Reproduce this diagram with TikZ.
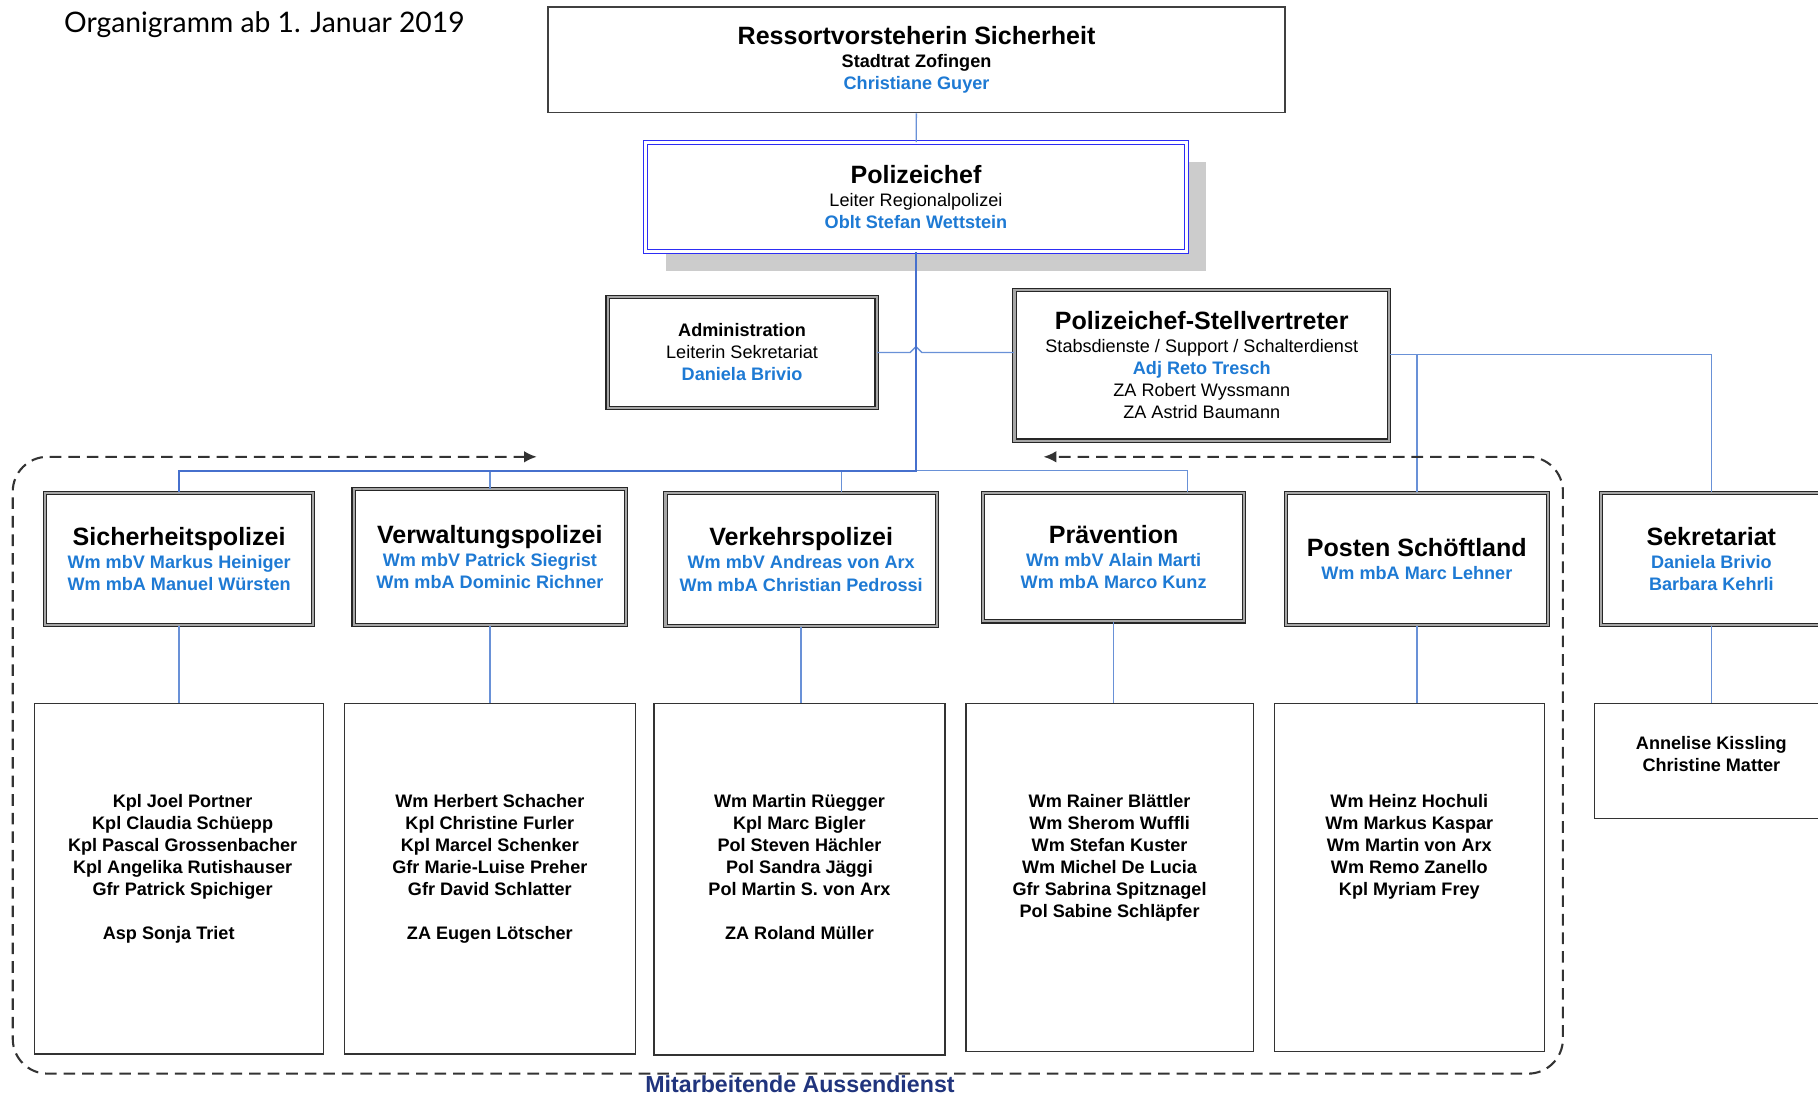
\documentclass[tikz,border=0pt]{standalone}
\usepackage{fontspec}
\setmainfont{Liberation Sans}
\newfontfamily\headfont{Lato}
\usetikzlibrary{positioning,arrows.meta,shadows}

\definecolor{nameblue}{RGB}{30,122,212}
\definecolor{linkblue}{RGB}{105,145,215}
\definecolor{mainblue}{RGB}{70,112,205}
\definecolor{chefblue}{RGB}{45,45,245}
\definecolor{shadowgray}{RGB}{204,204,204}
\definecolor{navy}{RGB}{32,52,125}

\newcommand{\smallset}{\fontsize{7.8}{9.5}\selectfont}
\newcommand{\boxtitle}[1]{{\fontsize{10.8}{12}\selectfont\bfseries #1}}
\newcommand{\persona}[1]{\textcolor{nameblue}{\bfseries #1}}

\tikzset{
  unitbox/.style={draw=black!85, line width=0.5pt, double=black!35, double distance=0.9pt,
    fill=white, inner sep=0pt, align=center, font=\smallset},
  plainbox/.style={draw=black!80, line width=0.6pt, fill=white, inner sep=0pt},
  stafftext/.style={inner sep=0pt, align=center, font=\smallset\bfseries},
  link/.style={draw=linkblue, line width=0.6pt},
  mainlink/.style={draw=mainblue, line width=1pt},
  frame/.style={draw=black!80, line width=0.9pt, dash pattern=on 5pt off 3pt}
}

\begin{document}
\begin{tikzpicture}[x=0.5pt, y=-0.5pt]
\useasboundingbox (0,0) rectangle (1568,945);

\node[anchor=west, inner sep=0pt, font=\headfont\fontsize{12.2}{14}\selectfont] (caption) at (55,21) {Organigramm ab 1. Januar 2019};

% Leitung
\node[plainbox, draw=black!75, line width=0.8pt, minimum width=317.5pt, minimum height=45.5pt, align=center, font=\smallset] (ressort) at (790.5,51.5)
  {\boxtitle{Ressortvorsteherin Sicherheit}\\[0.5pt] \textbf{Stadtrat Zofingen}\\ \persona{Christiane Guyer}};
\node[draw=chefblue, line width=0.5pt, double=white, double distance=1.2pt, fill=white, inner sep=0pt,
  minimum width=233pt, minimum height=47pt, align=center, font=\smallset,
  drop shadow={shadow xshift=8.5pt, shadow yshift=-8.5pt, fill=shadowgray, opacity=1}] (chef) at (790,170)
  {\boxtitle{Polizeichef}\\[0.5pt] Leiter Regionalpolizei\\ \persona{Oblt Stefan Wettstein}};

\node[unitbox, minimum width=116pt, minimum height=48pt] (admin) at (640,304)
  {\textbf{Administration}\\ Leiterin Sekretariat\\ \persona{Daniela Brivio}};
\node[unitbox, minimum width=161.5pt, minimum height=65pt] (stv) at (1036.5,315)
  {\boxtitle{Polizeichef-Stellvertreter}\\[0.5pt] Stabsdienste / Support / Schalterdienst\\ \persona{Adj Reto Tresch}\\ ZA Robert Wyssmann\\ ZA Astrid Baumann};

% Abteilungen
\node[unitbox, minimum width=115.5pt, minimum height=57pt] (sipo) at (154.5,482)
  {\boxtitle{Sicherheitspolizei}\\[0.5pt] \persona{Wm mbV Markus Heiniger}\\ \persona{Wm mbA Manuel Würsten}};
\node[unitbox, minimum width=117.5pt, minimum height=58.5pt] (vwp) at (422.5,480.5)
  {\boxtitle{Verwaltungspolizei}\\[0.5pt] \persona{Wm mbV Patrick Siegrist}\\ \persona{Wm mbA Dominic Richner}};
\node[unitbox, minimum width=117pt, minimum height=57.5pt] (vp) at (691,482.5)
  {\boxtitle{Verkehrspolizei}\\[0.5pt] \persona{Wm mbV Andreas von Arx}\\ \persona{Wm mbA Christian Pedrossi}};
\node[unitbox, minimum width=112.5pt, minimum height=55.5pt] (prae) at (960.5,480.5)
  {\boxtitle{Prävention}\\[0.5pt] \persona{Wm mbV Alain Marti}\\ \persona{Wm mbA Marco Kunz}};
\node[unitbox, minimum width=113pt, minimum height=57pt] (posten) at (1222,482)
  {\boxtitle{Posten Schöftland}\\[0.5pt] \persona{Wm mbA Marc Lehner}};
\node[unitbox, minimum width=95pt, minimum height=57pt] (sekr) at (1476,482)
  {\boxtitle{Sekretariat}\\[0.5pt] \persona{Daniela Brivio}\\ \persona{Barbara Kehrli}};

% Mitarbeitende
\node[plainbox, minimum width=124.5pt, minimum height=151pt] (s1) at (154.5,758) {};
\node[plainbox, minimum width=125.5pt, minimum height=151pt] (s2) at (422.5,758) {};
\node[plainbox, minimum width=125.5pt, minimum height=151.5pt] (s3) at (689.5,758.5) {};
\node[plainbox, minimum width=124pt, minimum height=150pt] (s4) at (957,757) {};
\node[plainbox, minimum width=116.5pt, minimum height=150pt] (s5) at (1215.5,757) {};
\node[plainbox, minimum width=101pt, minimum height=49.5pt] (s6) at (1476,656.5) {};

\node[stafftext, below=39pt of s1.north, xshift=1.5pt] (n1) {Kpl Joel Portner\\ Kpl Claudia Schüepp\\ Kpl Pascal Grossenbacher\\ Kpl Angelika Rutishauser\\ Gfr Patrick Spichiger\\[9.5pt] Asp Sonja Triet\hspace*{12pt}};
\node[stafftext, below=39pt of s2.north] (n2) {Wm Herbert Schacher\\ Kpl Christine Furler\\ Kpl Marcel Schenker\\ Gfr Marie-Luise Preher\\ Gfr David Schlatter\\[9.5pt] ZA Eugen Lötscher};
\node[stafftext, below=39pt of s3.north] (n3) {Wm Martin Rüegger\\ Kpl Marc Bigler\\ Pol Steven Hächler\\ Pol Sandra Jäggi\\ Pol Martin S. von Arx\\[9.5pt] ZA Roland Müller};
\node[stafftext, below=39pt of s4.north] (n4) {Wm Rainer Blättler\\ Wm Sherom Wuffli\\ Wm Stefan Kuster\\ Wm Michel De Lucia\\ Gfr Sabrina Spitznagel\\ Pol Sabine Schläpfer};
\node[stafftext, below=39pt of s5.north] (n5) {Wm Heinz Hochuli\\ Wm Markus Kaspar\\ Wm Martin von Arx\\ Wm Remo Zanello\\ Kpl Myriam Frey};
\node[stafftext, below=14pt of s6.north] (n6) {Annelise Kissling\\ Christine Matter};

% Verbindungen
\coordinate (bus) at (790,406);
\coordinate (vpin) at ([xshift=17.5pt]vp.north);
\coordinate (praein) at ([xshift=31.75pt]prae.north);
\coordinate (stvout) at ([yshift=4.5pt]stv.east);
\draw[link] (ressort) -- (chef);
\draw[link] (admin.east) -- ([xshift=-2.5pt]admin.east -| chef) -- ++(2.5pt,2.5pt) -- ++(2.5pt,-2.5pt) -- (admin.east -| stv.west);
\draw[link] (vwp) -- (vwp |- bus);
\draw[link] (vpin) -- (vpin |- bus) -| (praein);
\draw[mainlink] (chef) -- (bus) -| (sipo);
\draw[link] (stvout) -| (sekr);
\draw[link] (posten) |- (stvout);
\foreach \u/\s in {sipo/s1, vwp/s2, vp/s3, prae/s4, posten/s5, sekr/s6}
  \draw[link] (\u) -- (\u |- \s.north);

% Aussendienst
\draw[frame, rounded corners=15pt, {Latex[length=5.5pt,width=5pt]}-{Latex[length=5.5pt,width=5pt]}]
  (463,394) -- (11,394) -- (11,926) -- (1348,926) -- (1348,394) -- (900,394);
\node[font=\fontsize{10}{12}\selectfont\bfseries, text=navy, inner sep=0pt] (aussen) at (690,935) {Mitarbeitende Aussendienst};

\end{tikzpicture}
\end{document}
